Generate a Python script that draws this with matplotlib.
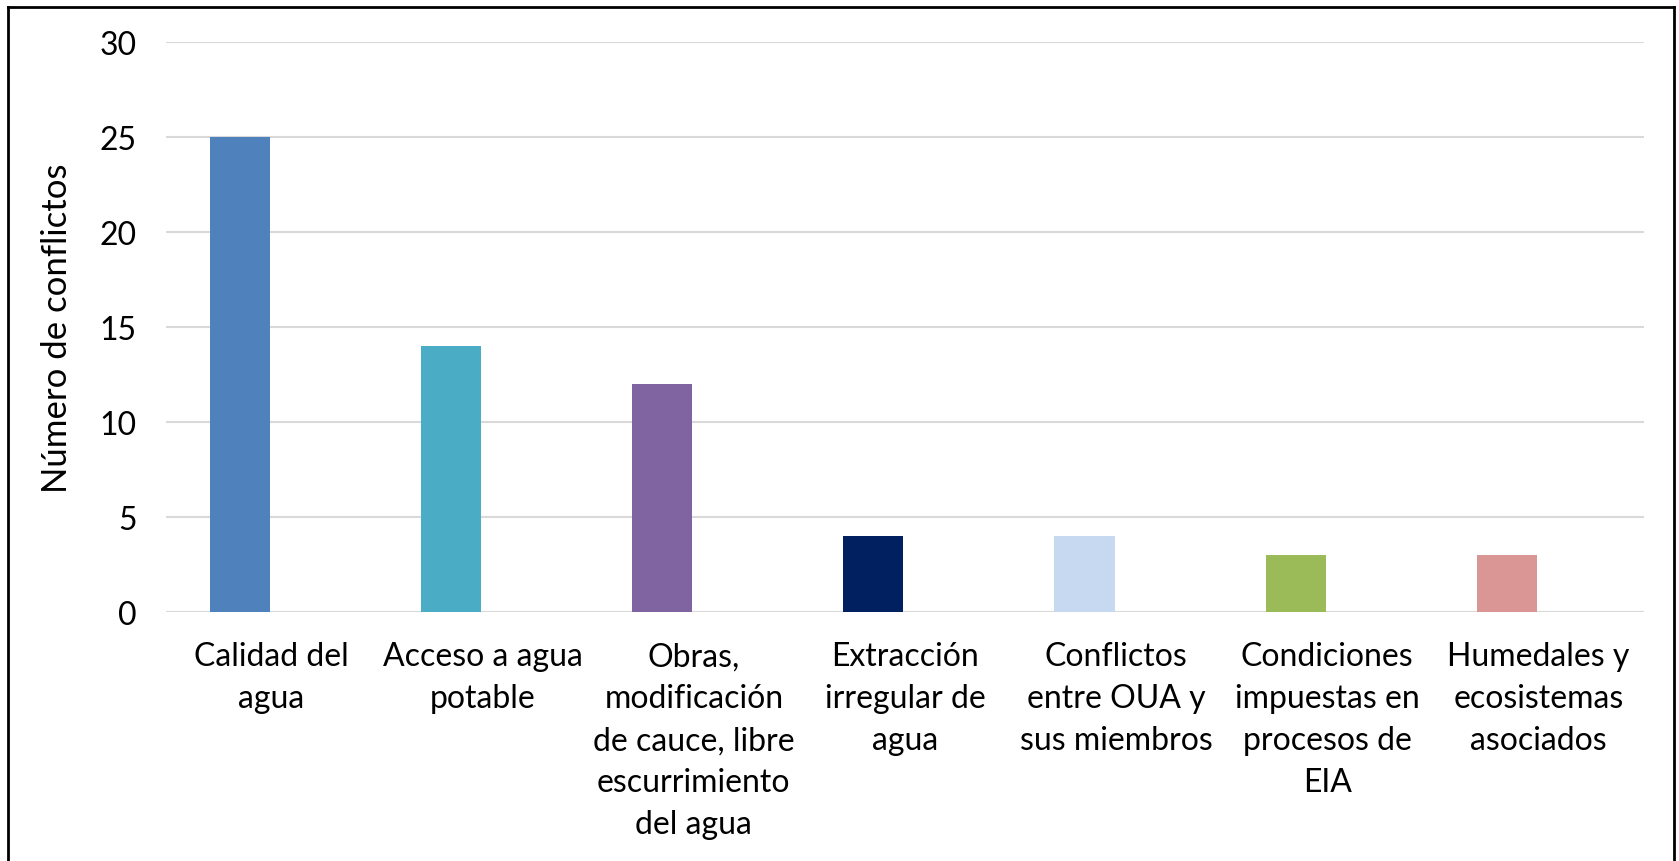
import matplotlib.pyplot as plt
import numpy as np

categorias = [
    'Calidad del\nagua',
    'Acceso a agua\npotable',
    'Obras,\nmodificación\nde cauce, libre\nescurrimiento\ndel agua',
    'Extracción\nirregular de\nagua',
    'Conflictos\nentre OUA y\nsus miembros',
    'Condiciones\nimpuestas en\nprocesos de\nEIA',
    'Humedales y\necosistemas\nasociados',
]
conflictos = [25, 14, 12, 4, 4, 3, 3]
colores = ['#4F81BD', '#4BACC6', '#8064A2', '#002060', '#C6D9F1', '#9BBB59', '#D99694']

plt.rcParams['font.family'] = ['Lato', 'DejaVu Sans']

fig = plt.figure(figsize=(16.79, 8.62), dpi=100)
ax = fig.add_axes([166 / 1679, 1 - 613 / 862, (1644 - 166) / 1679, (613 - 43) / 862])

x = np.arange(len(categorias))
ax.bar(x - 0.15, conflictos, width=0.285, color=colores, zorder=3)

ax.set_xlim(-0.5, len(categorias) - 0.5)
ax.set_ylim(0, 30)
ax.set_yticks(range(0, 31, 5))
ax.yaxis.grid(True, color='#D9D9D9', linewidth=1.5, zorder=0)
for s in ax.spines.values():
    s.set_visible(False)
ax.axhline(0, color='#D9D9D9', linewidth=1.5, zorder=2)
ax.tick_params(length=0, labelsize=23)
ax.tick_params(axis='y', pad=21)
ax.tick_params(axis='x', pad=21)
ax.set_xticks(x)
ax.set_xticklabels(categorias, linespacing=1.5)
ax.set_ylabel('Número de conflictos', fontsize=25)
ax.yaxis.set_label_coords(-0.063, 0.5)

# marco exterior (sin borde inferior)
fig.add_artist(plt.Line2D([8 / 1679, 8 / 1679], [0, 1 - 8 / 862], color='black', lw=2, transform=fig.transFigure))
fig.add_artist(plt.Line2D([8 / 1679, 1674 / 1679], [1 - 8 / 862, 1 - 8 / 862], color='black', lw=2, transform=fig.transFigure))
fig.add_artist(plt.Line2D([1674 / 1679, 1674 / 1679], [0, 1 - 8 / 862], color='black', lw=2, transform=fig.transFigure))

fig.savefig('out.png', dpi=100)
